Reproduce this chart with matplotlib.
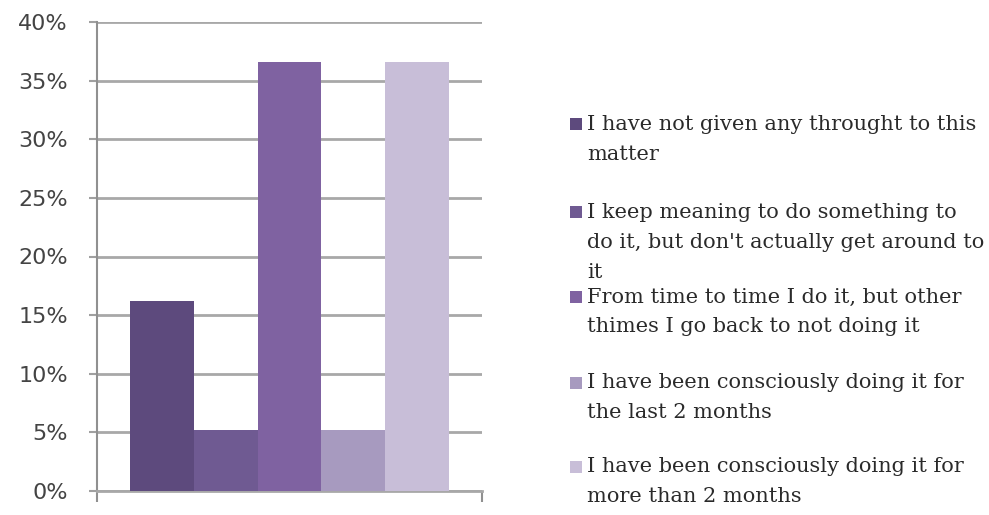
import matplotlib
matplotlib.use("Agg")
import matplotlib.pyplot as plt
from matplotlib.patches import Rectangle
import numpy as np

# Survey answers and their shares (%)
answers = [
    "I have not given any throught to this\nmatter",
    "I keep meaning to do something to\ndo it, but don't actually get around to\nit",
    "From time to time I do it, but other\nthimes I go back to not doing it",
    "I have been consciously doing it for\nthe last 2 months",
    "I have been consciously doing it for\nmore than 2 months",
]
shares = [16.2, 5.2, 36.6, 5.2, 36.6]
colors = ["#5d4a7d", "#6f5a92", "#7f62a1", "#a79abf", "#c8bed8"]
yticks = [0, 5, 10, 15, 20, 25, 30, 35, 40]
ytick_labels = ["0%", "5%", "10%", "15%", "20%", "25%", "30%", "35%", "40%"]

W, H = 989, 515
fig = plt.figure(figsize=(W / 100, H / 100), dpi=100)
ax = fig.add_axes([97 / W, 1 - 491 / H, (482 - 97) / W, (491 - 22) / H])

# One category, five series side by side
n = len(shares)
group = 0.83
bw = group / n
xs = 0.5 + (np.arange(n) - (n - 1) / 2) * bw
for x, v, c in zip(xs, shares, colors):
    ax.bar(x, v, width=bw, color=c, linewidth=0, zorder=3)

ax.set_xlim(0, 1)
ax.set_ylim(0, 40)
ax.set_yticks(yticks)
ax.set_yticklabels(ytick_labels, fontsize=16, color="#444444", family="DejaVu Sans")
ax.set_xticks([0, 1])
ax.set_xticklabels([])
ax.tick_params(axis="y", direction="out", length=6, width=1.5, color="#a0a0a0", pad=15)
ax.tick_params(axis="x", direction="out", length=8, width=1.5, color="#909090")
ax.yaxis.grid(True, color="#a8a8a8", linewidth=2, zorder=0)
ax.set_axisbelow(True)
for side in ("top", "right"):
    ax.spines[side].set_visible(False)
ax.spines["left"].set_color("#909090")
ax.spines["left"].set_linewidth(1.5)
ax.spines["bottom"].set_color("#a8a8a8")
ax.spines["bottom"].set_linewidth(2)

# Legend drawn as text blocks with colour swatches
entry_tops = [124, 212, 297, 383, 467]
line_h = 30
for label, c, yt in zip(answers, colors, entry_tops):
    fig.patches.append(Rectangle((570 / W, 1 - (yt + 6) / H), 12 / W, 12 / H,
                                 transform=fig.transFigure, color=c, linewidth=0))
    for k, line in enumerate(label.split("\n")):
        fig.text(587 / W, 1 - (yt + k * line_h) / H, line, fontsize=15,
                 family="DejaVu Serif", color="#2a2a2a", va="center", ha="left")

fig.savefig("out.png", dpi=100, facecolor="white")
